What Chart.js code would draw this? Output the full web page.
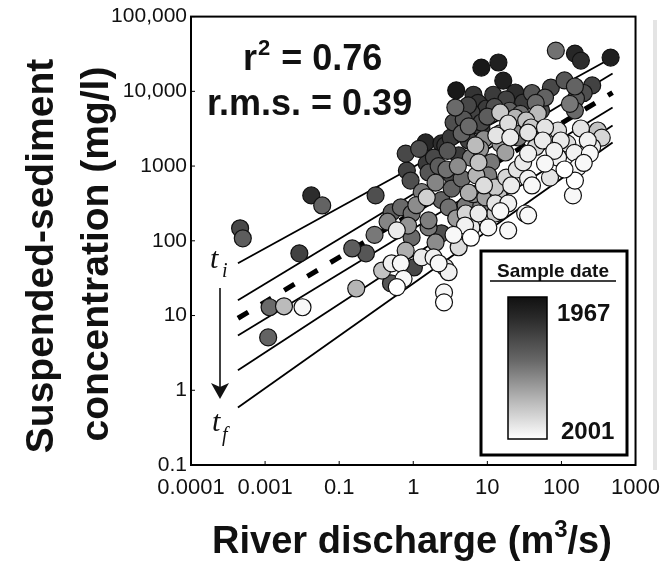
<!DOCTYPE html>
<html>
<head>
<meta charset="utf-8">
<script src="https://cdn.jsdelivr.net/npm/chart.js@4/dist/chart.umd.min.js"></script>
<style>
  html, body { margin: 0; padding: 0; background: #fff; }
  #wrap { width: 670px; height: 565px; }
</style>
</head>
<body>
<div id="wrap"><canvas id="sedChart" width="670" height="565"></canvas></div>
<script>
// Axis ticks (labels copied as printed on the original figure)
const xTickValues = [0.001, 0.01, 0.1, 1, 10, 100, 1000];
const xTickLabels = ['0.0001', '0.001', '0.1', '1', '10', '100', '1000'];
const yTickValues = [0.1, 1, 10, 100, 1000, 10000, 100000];
const yTickLabels = ['0.1', '1', '10', '100', '1000', '10,000', '100,000'];

// Samples: discharge (m3/s), concentration (mg/l), sample year
const discharge = [
  0.0046, 0.005, 0.042, 0.059, 0.029, 0.0115, 0.018, 0.032, 0.011, 0.15,
  0.23, 0.17, 0.31, 0.38, 0.51, 0.68, 1.02, 0.50, 0.74, 0.60,
  0.60, 0.95, 1.61, 2.4, 0.79, 1.88, 2.2, 2.7, 2.6, 2.6,
  3.0, 4.1, 6.1, 5.1, 0.79, 1.47, 2.4, 0.82, 0.92, 1.52,
  1.61, 1.52, 0.51, 0.68, 0.95, 2.4, 1.61, 8.3, 14.1, 16.4,
  3.8, 3.7, 6.1, 9.7, 23.8, 30.4, 14.9, 8.3, 33.4, 23.8,
  84, 152, 183, 461, 72, 152, 157, 152, 60, 53,
  4.5, 8.3, 2.7, 4.1, 48, 19.1, 14.9, 26.1, 39, 60,
  56, 35.5, 60, 90, 90, 98, 183, 227, 309, 242,
  166, 152, 143, 32.4, 19.1, 12.8, 21, 14.1, 7.6, 10.3,
  13.2, 20.4, 35.5, 6.9, 17.5, 7.6, 11.3, 30.4, 4.5, 7.1,
  10.3, 35.5, 14.1, 5.6, 3.3, 9.4, 3.0, 5.1, 8.3, 12.8,
  19.1, 12.8, 35.5, 3.5, 5.6, 2.2, 3.3, 6.5, 12, 5.6,
  1.2, 1.9, 2.9, 3.2, 4.8, 5.5, 7.5, 10, 12.5, 18,
  20, 28, 40, 45, 110, 130, 200, 260,
  1.3, 2.0, 2.8, 4.0, 6.0, 8.0, 9.0, 15, 22, 1.1,
  0.45, 0.3, 0.85, 2.0, 3.8, 6.5,
  45, 70, 120, 150, 200, 260, 350, 110, 80, 25,
  18, 9, 40, 5, 3.5, 1.3, 6, 15, 70
];
const concentration = [
  147, 108, 405, 297, 68, 12.9, 13.3, 12.9, 5.1, 79,
  68, 23, 405, 40, 50, 50, 44, 27, 31, 24,
  138, 111, 151, 126, 74, 60, 50, 44, 20.4, 15,
  38, 82, 151, 232, 1470, 2070, 2010, 870, 640, 1080,
  820, 380, 240, 280, 232, 350, 188, 20800, 24300, 13900,
  10300, 6070, 5210, 5890, 9640, 7080, 5210, 3830, 4070, 4460,
  35100, 32000, 25800, 28300, 11200, 11600, 8010, 5540, 8260, 5540,
  2730, 3280, 1890, 1390, 5050, 3710, 2730, 2410, 3280, 3280,
  2200, 1470, 1080, 1300, 2990, 2200, 3180, 2200, 2990, 1470,
  960, 640, 405, 232, 138, 520, 550, 350, 232, 151,
  2570, 2410, 2810, 1890, 1520, 1120, 1120, 1120, 680, 750,
  750, 680, 440, 440, 500, 380, 280, 297, 297, 316,
  316, 232, 219, 3830, 2200, 1000, 750, 9000, 9000, 3400,
  1700, 1300, 1600, 2400, 4200, 6500, 7000, 4600, 6200, 7800,
  5500, 5000, 9500, 7000, 14000, 6800, 9500, 12000,
  450, 600, 900, 1000, 1300, 1700, 2300, 2000, 3000, 300,
  180, 120, 160, 95, 200, 420,
  1800, 2600, 2000, 1500, 1100, 1800, 2400, 900, 1600, 900,
  700, 550, 550, 160, 120, 60, 110, 250, 700
];
const sampleYear = [
  1974, 1977, 1970, 1978, 1973, 1979, 1991, 2000, 1978, 1977,
  1976, 1990, 1975, 1992, 1999, 2000, 1974, 1976, 2000, 2001,
  1998, 1979, 1981, 1975, 1989, 1999, 2000, 1997, 2000, 2001,
  1999, 1996, 1998, 1995, 1974, 1969, 1970, 1973, 1975, 1972,
  1976, 1994, 1977, 1979, 1980, 1978, 1982, 1967, 1968, 1968,
  1967, 1979, 1973, 1972, 1970, 1972, 1993, 1974, 1992, 1990,
  1980, 1969, 1970, 1968, 1974, 1978, 1977, 1979, 1978, 1975,
  1978, 1973, 1971, 1972, 1991, 1996, 1988, 1981, 1993, 1997,
  1998, 1999, 2000, 1999, 1996, 1998, 1997, 1999, 1992, 2000,
  2000, 2001, 2000, 1999, 2000, 1993, 1998, 1982, 1998, 2000,
  1997, 1998, 1997, 1991, 1987, 1992, 1981, 1998, 1979, 1990,
  1982, 1999, 1992, 1989, 1978, 1987, 1980, 1981, 1983, 1997,
  1999, 1993, 2000, 1975, 1973, 1977, 1974, 1971, 1972, 1979,
  1975, 1974, 1976, 1972, 1976, 1974, 1971, 1977, 1975, 1973,
  1978, 1980, 1976, 1979, 1976, 1981, 1975, 1973,
  1981, 1983, 1980, 1984, 1982, 1985, 1984, 1986, 1984, 1984,
  1983, 1981, 1985, 1984, 1986, 1985,
  1995, 1994, 1996, 1999, 2000, 1998, 1995, 2001, 1999, 1997,
  1995, 1996, 2000, 1999, 2000, 1998, 2001, 2000, 1997
];

// Rating-curve lines from t_i (top) to t_f (bottom); index 2 is the dashed overall fit
const fitDischarge = [0.0043, 490];
const fitStart = [50, 16, 9.2, 5.4, 1.85, 0.59];
const fitEnd = [28300, 17300, 9640, 6070, 3490, 2070];
const fitDashed = [false, false, true, false, false, false];

const yearMin = 1967, yearMax = 2001;
const FONT = '"Liberation Sans", Arial, Helvetica, sans-serif';

function yearGray(y) {
  const t = (y - yearMin) / (yearMax - yearMin);
  const g = Math.round(25 + t * 230);
  return `rgb(${g},${g},${g})`;
}

// newer samples drawn on top
const order = sampleYear.map((_, i) => i).sort((a, b) => sampleYear[a] - sampleYear[b]);
const points = order.map(i => ({ x: discharge[i], y: concentration[i] }));
const pointColors = order.map(i => yearGray(sampleYear[i]));

const lineSets = fitStart.map((s, i) => ({
  type: 'line',
  data: [{ x: fitDischarge[0], y: s }, { x: fitDischarge[1], y: fitEnd[i] }],
  borderColor: '#000',
  borderWidth: fitDashed[i] ? 5 : 1.8,
  borderDash: fitDashed[i] ? [12, 15] : [],
  pointRadius: 0,
  fill: false,
  order: 2
}));

// frame, inner ticks, text annotations and colour bar
const decorPlugin = {
  id: 'decor',
  afterDraw(chart) {
    const ctx = chart.ctx;
    const a = chart.chartArea;
    const xs = chart.scales.x, ys = chart.scales.y;
    ctx.save();

    // faint edge of neighbouring panel
    ctx.fillStyle = '#e4e4e4';
    ctx.fillRect(653, 20, 4, 450);

    // frame
    ctx.strokeStyle = '#000';
    ctx.lineWidth = 2;
    ctx.strokeRect(a.left, a.top, a.right - a.left, a.bottom - a.top);
    ctx.lineWidth = 1;
    yTickValues.forEach(v => {
      const py = ys.getPixelForValue(v);
      ctx.beginPath(); ctx.moveTo(a.left, py); ctx.lineTo(a.left + 4, py); ctx.stroke();
    });
    xTickValues.forEach(v => {
      const px = xs.getPixelForValue(v);
      ctx.beginPath(); ctx.moveTo(px, a.bottom); ctx.lineTo(px, a.bottom - 4); ctx.stroke();
    });

    ctx.fillStyle = '#111';
    ctx.textBaseline = 'alphabetic';
    ctx.textAlign = 'left';

    // r^2 and r.m.s.
    ctx.font = 'bold 36px ' + FONT;
    ctx.fillText('r', 243, 70);
    const w = ctx.measureText('r').width;
    ctx.font = 'bold 22px ' + FONT;
    ctx.fillText('2', 243 + w + 1, 55);
    const w2 = ctx.measureText('2').width;
    ctx.font = 'bold 36px ' + FONT;
    ctx.fillText(' = 0.76', 243 + w + w2 + 2, 70);
    ctx.fillText('r.m.s. = 0.39', 207, 115);

    // t_i, arrow, t_f
    ctx.font = 'italic 30px "Liberation Serif", "DejaVu Serif", serif';
    ctx.fillText('t', 210, 268);
    ctx.fillText('t', 212, 431);
    ctx.font = 'italic 20px "Liberation Serif", "DejaVu Serif", serif';
    ctx.fillText('i', 222, 277);
    ctx.fillText('f', 222, 441);
    ctx.lineWidth = 1.5;
    ctx.beginPath(); ctx.moveTo(220, 288); ctx.lineTo(220, 390); ctx.stroke();
    ctx.beginPath();
    ctx.moveTo(211, 383); ctx.lineTo(220, 387); ctx.lineTo(229, 383); ctx.lineTo(220, 399);
    ctx.closePath(); ctx.fill();

    // colour-bar key
    ctx.fillStyle = '#fff';
    ctx.fillRect(481, 251, 146, 204);
    ctx.strokeStyle = '#000';
    ctx.lineWidth = 3;
    ctx.strokeRect(481, 251, 146, 204);
    ctx.fillStyle = '#111';
    ctx.font = 'bold 19px ' + FONT;
    ctx.textAlign = 'center';
    ctx.fillText('Sample date', 553, 277);
    ctx.lineWidth = 1.5;
    ctx.beginPath(); ctx.moveTo(490, 281); ctx.lineTo(616, 281); ctx.stroke();
    const grad = ctx.createLinearGradient(0, 297, 0, 439);
    grad.addColorStop(0, '#111');
    grad.addColorStop(0.15, '#2a2a2a');
    grad.addColorStop(0.45, '#686868');
    grad.addColorStop(0.75, '#bdbdbd');
    grad.addColorStop(1, '#ffffff');
    ctx.fillStyle = grad;
    ctx.fillRect(508, 297, 39, 142);
    ctx.strokeRect(508, 297, 39, 142);
    ctx.fillStyle = '#111';
    ctx.font = 'bold 24px ' + FONT;
    ctx.textAlign = 'left';
    ctx.fillText(String(yearMin), 557, 321);
    ctx.fillText(String(yearMax), 561, 439);

    // axis titles
    ctx.font = 'bold 38px ' + FONT;
    const p1 = 'River discharge (m', p2 = '3', p3 = '/s)';
    const w1 = ctx.measureText(p1).width, w3 = ctx.measureText(p3).width;
    ctx.font = 'bold 24px ' + FONT;
    const wsup = ctx.measureText(p2).width;
    const x0 = 412 - (w1 + wsup + w3) / 2;
    ctx.font = 'bold 38px ' + FONT;
    ctx.fillText(p1, x0, 553);
    ctx.font = 'bold 24px ' + FONT;
    ctx.fillText(p2, x0 + w1, 537);
    ctx.font = 'bold 38px ' + FONT;
    ctx.fillText(p3, x0 + w1 + wsup, 553);

    ctx.font = 'bold 39px ' + FONT;
    ctx.textAlign = 'center';
    ctx.textBaseline = 'middle';
    ctx.save();
    ctx.translate(42, 256);
    ctx.rotate(-Math.PI / 2);
    ctx.fillText('Suspended-sediment', 0, 0);
    ctx.restore();
    ctx.save();
    ctx.translate(97, 254);
    ctx.rotate(-Math.PI / 2);
    ctx.fillText('concentration (mg/l)', 0, 0);
    ctx.restore();

    ctx.restore();
  }
};

const ctx = document.getElementById('sedChart').getContext('2d');
new Chart(ctx, {
  type: 'scatter',
  data: {
    datasets: [
      {
        type: 'scatter',
        data: points,
        backgroundColor: pointColors,
        borderColor: '#111',
        borderWidth: 1.2,
        pointRadius: 8.5,
        order: 1
      },
      ...lineSets
    ]
  },
  options: {
    responsive: false,
    animation: false,
    devicePixelRatio: 1,
    layout: { padding: { left: 0, top: 16, right: 32, bottom: 0 } },
    plugins: { legend: { display: false }, tooltip: { enabled: false } },
    scales: {
      x: {
        type: 'logarithmic',
        min: 0.001,
        max: 1000,
        grid: { display: false, drawTicks: false },
        border: { display: false },
        afterBuildTicks: axis => { axis.ticks = xTickValues.map(v => ({ value: v })); },
        afterFit: axis => { axis.height = 100; },
        ticks: {
          autoSkip: false,
          maxRotation: 0,
          padding: 10,
          color: '#111',
          font: { family: FONT, size: 22 },
          callback: (value, index) => xTickLabels[index]
        }
      },
      y: {
        type: 'logarithmic',
        min: 0.1,
        max: 100000,
        grid: { display: false, drawTicks: false },
        border: { display: false },
        afterBuildTicks: axis => { axis.ticks = yTickValues.map(v => ({ value: v })); },
        afterFit: axis => { axis.width = 191; },
        ticks: {
          autoSkip: false,
          padding: 4,
          color: '#111',
          font: { family: FONT, size: 21 },
          callback: (value, index) => yTickLabels[index]
        }
      }
    }
  },
  plugins: [decorPlugin]
});
</script>
</body>
</html>
